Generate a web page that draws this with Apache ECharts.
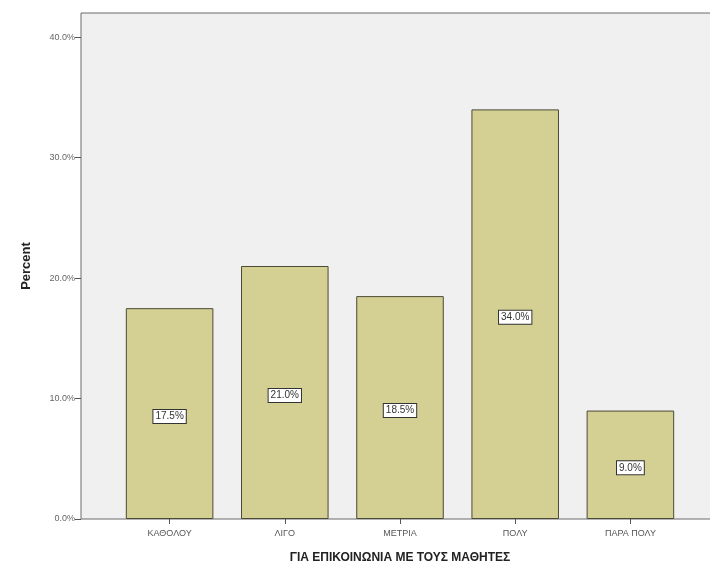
<!DOCTYPE html>
<html><head><meta charset="utf-8">
<script src="https://cdn.jsdelivr.net/npm/echarts@6/dist/echarts.min.js"></script>
<style>html,body{margin:0;padding:0;background:#fff}#c{width:710px;height:572px}</style>
</head><body><div id="c"></div>
<script>
var categories = ['ΚΑΘΟΛΟΥ', 'ΛΙΓΟ', 'ΜΕΤΡΙΑ', 'ΠΟΛΥ', 'ΠΑΡΑ ΠΟΛΥ'];
var percentValues = [17.5, 21.0, 18.5, 34.0, 9.0];
var yTicks = [0, 10, 20, 30, 40];
var xTitle = 'ΓΙΑ ΕΠΙΚΟΙΝΩΝΙΑ ΜΕ ΤΟΥΣ ΜΑΘΗΤΕΣ';
var yTitle = 'Percent';

var chart = echarts.init(document.getElementById('c'), null, {renderer: 'canvas'});
chart.setOption({
  animation: false,
  textStyle: {fontFamily: 'Liberation Sans, Arial, sans-serif'},
  grid: [
    {left: 112, right: 22, top: 13, bottom: 53, containLabel: false, outerBoundsMode: 'none'},
    {left: 81, width: 650, top: 13, bottom: 53, show: true, outerBoundsMode: 'none',
     backgroundColor: '#f0f0f0', borderColor: '#6a6a6a', borderWidth: 1, z: 0}
  ],
  xAxis: [
    {type: 'category', gridIndex: 0, data: categories,
     name: xTitle, nameLocation: 'middle', nameGap: 33,
     nameTextStyle: {fontSize: 12, fontWeight: 'bold', color: '#222'},
     axisLine: {show: false},
     axisTick: {show: true, alignWithLabel: true, length: 5, lineStyle: {color: '#555'}},
     axisLabel: {fontSize: 9, color: '#555', margin: 10}},
    {type: 'category', gridIndex: 1, data: [''], show: false}
  ],
  yAxis: [
    {type: 'value', gridIndex: 0, min: 0, max: 42, interval: 10, offset: 31,
     name: yTitle, nameLocation: 'middle', nameGap: 48, nameRotate: 90,
     nameTextStyle: {fontSize: 13, fontWeight: 'bold', color: '#222'},
     axisLine: {show: false},
     axisTick: {show: true, length: 6, customValues: yTicks, lineStyle: {color: '#555'}},
     splitLine: {show: false},
     axisLabel: {fontSize: 9, color: '#666', margin: 6, customValues: yTicks,
       formatter: function (v) { return v.toFixed(1) + '%'; }}},
    {type: 'value', gridIndex: 1, show: false, min: 0, max: 1}
  ],
  series: [{
    type: 'bar', xAxisIndex: 0, yAxisIndex: 0, data: percentValues,
    barCategoryGap: '24%', z: 5,
    itemStyle: {color: '#d4cf92', borderColor: '#4a4a36', borderWidth: 1},
    label: {show: true, position: 'inside', offset: [0, 3],
      formatter: function (p) { return p.value.toFixed(1) + '%'; },
      backgroundColor: '#ffffff', borderColor: '#333', borderWidth: 1,
      padding: [2, 2, 1, 2], fontSize: 10, color: '#333'}
  }]
});
</script></body></html>
